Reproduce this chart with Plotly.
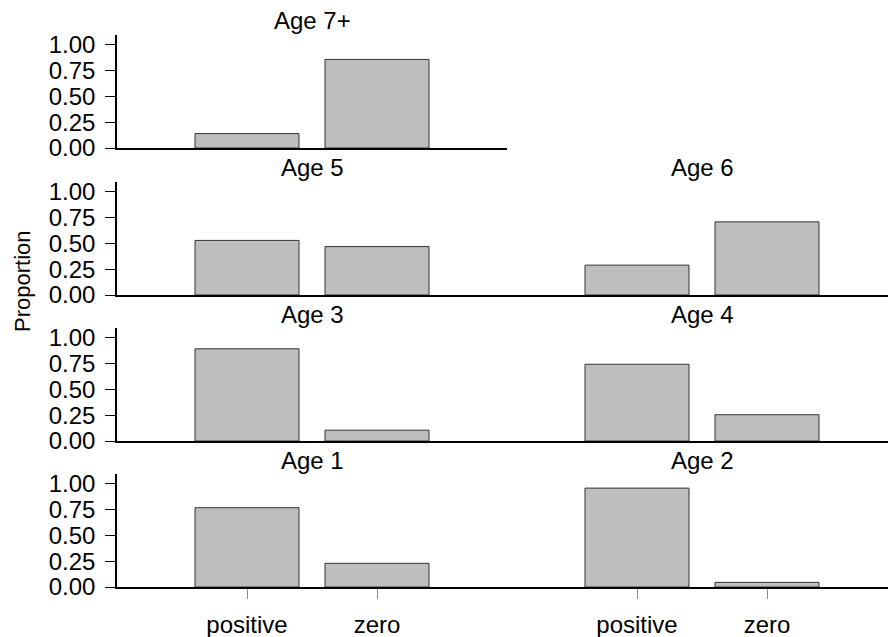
import plotly.graph_objects as go

# Share of fish by growth class, one panel per age group
categories = ["positive", "zero"]
ages = ["Age 7+", "Age 5", "Age 6", "Age 3", "Age 4", "Age 1", "Age 2"]
positive_share = [0.14, 0.53, 0.29, 0.895, 0.745, 0.77, 0.96]
zero_share = [0.86, 0.47, 0.71, 0.105, 0.255, 0.23, 0.045]
y_tick_values = [0, 0.25, 0.5, 0.75, 1.0]
y_tick_labels = ["0.00", "0.25", "0.50", "0.75", "1.00"]

# grid position (row, col) of each age panel
panel_rows = [1, 2, 2, 3, 3, 4, 4]
panel_cols = [1, 1, 2, 1, 2, 1, 2]

W, H = 888, 637
FONT = "Liberation Sans, Arial, Helvetica, sans-serif"
TEXT_SIZE = 24

col_px = {1: (117, 507), 2: (507, 888)}
unit_px = 130.0
row_base_px = {1: 148, 2: 295, 3: 441, 4: 587}
panel_h_px = 113
y_top = 1.097

fig = go.Figure()
layout = {}

for i, age in enumerate(ages):
    n = i + 1
    row, col = panel_rows[i], panel_cols[i]
    xs = "" if n == 1 else str(n)
    x0, x1 = col_px[col]
    base = row_base_px[row]
    top = base - panel_h_px

    fig.add_trace(go.Bar(
        x=categories,
        y=[positive_share[i], zero_share[i]],
        width=0.8,
        marker=dict(color="#bebebe", line=dict(color="#333333", width=1)),
        xaxis="x" + xs, yaxis="y" + xs,
        showlegend=False, hoverinfo="x+y",
    ))

    x_range_right = -1 + (x1 - x0) / unit_px
    layout["xaxis" + xs] = dict(
        domain=[x0 / W, x1 / W],
        range=[-1, x_range_right],
        anchor="y" + xs,
        type="category",
        categoryorder="array", categoryarray=categories,
        showline=True, linecolor="black", linewidth=1.5,
        ticks="outside" if row == 4 else "",
        ticklen=10, tickwidth=1, tickcolor="#888888",
        showticklabels=(row == 4),
        ticklabelstandoff=5,
        tickfont=dict(family=FONT, size=TEXT_SIZE, color="black"),
        showgrid=False, zeroline=False, fixedrange=True,
    )
    layout["yaxis" + xs] = dict(
        domain=[1 - base / H, 1 - top / H],
        range=[0, y_top],
        anchor="x" + xs,
        showline=(col == 1), linecolor="black", linewidth=1.5,
        ticks="outside" if col == 1 else "",
        ticklen=10, tickwidth=1.2, tickcolor="black",
        tickvals=y_tick_values, ticktext=y_tick_labels,
        showticklabels=(col == 1),
        ticklabelstandoff=5,
        tickfont=dict(family=FONT, size=TEXT_SIZE, color="black"),
        showgrid=False, zeroline=False, fixedrange=True,
    )

annotations = []
for i, age in enumerate(ages):
    row, col = panel_rows[i], panel_cols[i]
    x0 = col_px[col][0]
    center_px = x0 + 1.5 * unit_px
    top = row_base_px[row] - panel_h_px
    annotations.append(dict(
        text=age, xref="paper", yref="paper",
        x=center_px / W, y=1 - (top - 14) / H,
        xanchor="center", yanchor="middle", showarrow=False,
        font=dict(family=FONT, size=TEXT_SIZE, color="black"),
    ))

annotations.append(dict(
    text="Proportion", xref="paper", yref="paper",
    x=22 / W, y=1 - 281 / H, xanchor="center", yanchor="middle",
    textangle=-90, showarrow=False,
    font=dict(family=FONT, size=22, color="black"),
))

fig.update_layout(
    **layout,
    annotations=annotations,
    width=W, height=H,
    margin=dict(l=0, r=0, t=0, b=0),
    paper_bgcolor="white", plot_bgcolor="rgba(0,0,0,0)",
    template="none",
    bargap=0.2,
)

fig.write_html("out.html", config={"displayModeBar": False})
